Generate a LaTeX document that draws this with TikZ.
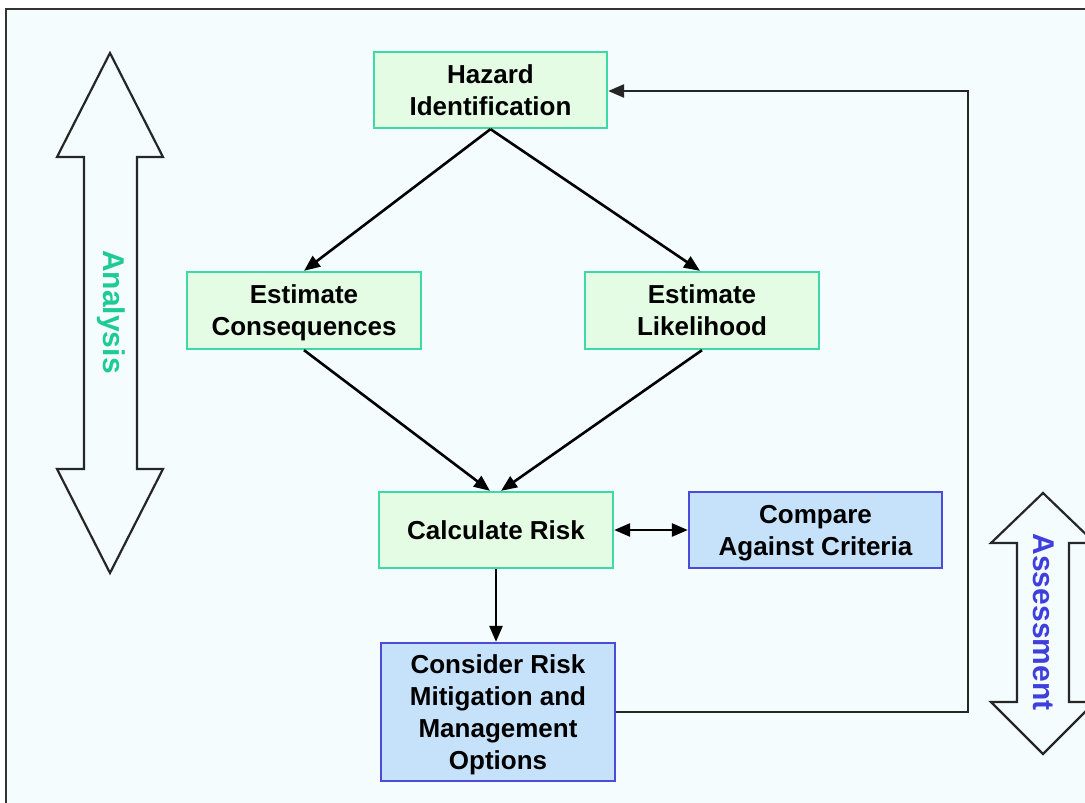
\documentclass[tikz,border=0pt]{standalone}
\usepackage{fontspec}
\setmainfont{Liberation Sans}
\usetikzlibrary{arrows.meta}
\definecolor{bgc}{HTML}{F4FCFE}
\definecolor{gfill}{HTML}{E4FCE4}
\definecolor{gdraw}{HTML}{3DD9A6}
\definecolor{bfill}{HTML}{C6E2FB}
\definecolor{bdraw}{HTML}{4B4BDB}
\definecolor{anac}{HTML}{1FCB95}
\definecolor{assc}{HTML}{3F3FDD}
\newcommand{\ls}{\rule[-6.7pt]{0pt}{32pt}}
\tikzset{
  gbox/.style={draw=gdraw, fill=gfill, line width=2.3pt, inner sep=0pt, align=center,
    font=\fontsize{26}{32}\selectfont\bfseries},
  bbox/.style={draw=bdraw, fill=bfill, line width=2.3pt, inner sep=0pt, align=center,
    font=\fontsize{26}{32}\selectfont\bfseries},
  conn/.style={line width=2.6pt, -{Triangle[length=16pt,width=13pt]}},
  biconn/.style={line width=2.6pt, {Triangle[length=16pt,width=13pt]}-{Triangle[length=16pt,width=13pt]}},
  blockarrow/.style={draw=black!85, fill=bgc, line width=2.2pt, line join=miter},
  sidelabel/.style={rotate=-90, font=\fontsize{30}{34}\selectfont\bfseries}
}
\begin{document}
\begin{tikzpicture}[x=1pt,y=-1pt]
\clip (0,0) rectangle (1085,803);
\useasboundingbox (0,0) rectangle (1085,803);
\fill[white] (0,0) rectangle (1085,803);
\draw[fill=bgc, draw=black!80, line width=2.5pt] (6,9) rectangle (1100,820);

% block arrows
\path[blockarrow] (110,53) -- (163,157) -- (137,157) -- (137,469) -- (163,469) -- (110,573)
  -- (57,469) -- (84,469) -- (84,157) -- (57,157) -- cycle;
\node[sidelabel, text=anac] (ana) at (111,312) {Analysis};
\path[blockarrow] (1043,493) -- (1095,543) -- (1069,543) -- (1069,702) -- (1095,702) -- (1043,754)
  -- (991,702) -- (1017,702) -- (1017,543) -- (991,543) -- cycle;
\node[sidelabel, text=assc] (ass) at (1044,622) {Assessment};

% boxes
\node[gbox, minimum width=233pt, minimum height=76pt] (haz) at (490.5,90) {Hazard\ls\\Identification\ls};
\node[gbox, minimum width=234pt, minimum height=77pt] (cons) at (304,310.5) {Estimate\ls\\Consequences\ls};
\node[gbox, minimum width=234pt, minimum height=77pt] (like) at (702,310.5) {Estimate\ls\\Likelihood\ls};
\node[gbox, minimum width=234pt, minimum height=76pt] (calc) at (496,530) {Calculate Risk\ls};
\node[bbox, minimum width=253pt, minimum height=76pt] (comp) at (815.5,530) {Compare\ls\\Against Criteria\ls};
\node[bbox, minimum width=234pt, minimum height=138pt] (cons2) at (498,712) {Consider Risk\ls\\Mitigation and\ls\\Management\ls\\Options\ls};

% connectors
\draw[conn] (haz.south) -- (cons.north);
\draw[conn] (haz.south) -- ([xshift=-2pt]like.north);
\draw[conn] (cons.south) -- ([xshift=-6pt]calc.north);
\draw[conn] (like.south) -- ([xshift=5pt]calc.north);
\draw[biconn] (calc.east) -- (comp.west);
\draw[conn] (calc.south) -- (calc.south |- cons2.north);
\coordinate (c1) at (968,712);
\coordinate (c2) at (968,91);
\draw[conn, draw=black!85] (cons2.east) -- (c1) -- (c2) -- (haz.east |- c2);
\end{tikzpicture}
\end{document}
